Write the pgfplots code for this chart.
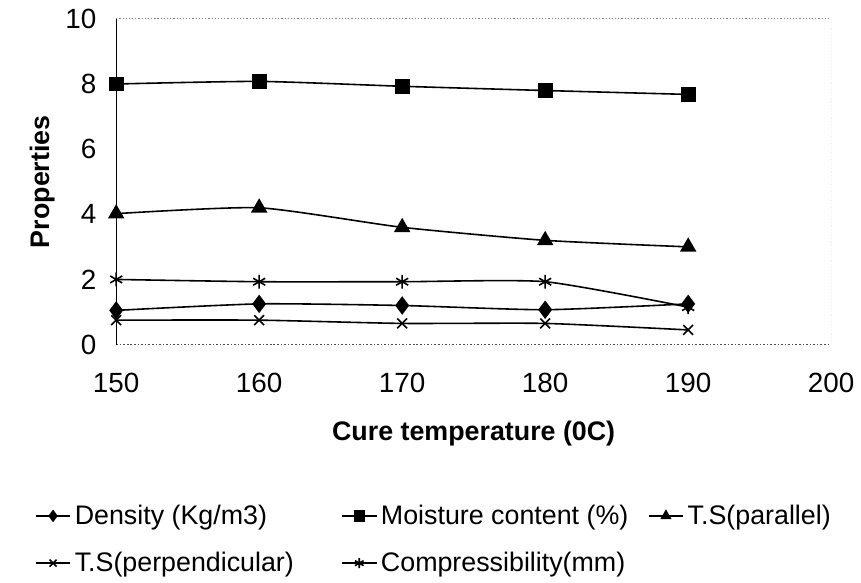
\documentclass[border=0pt]{standalone}
\usepackage{fontspec}
\setmainfont{Liberation Sans}
\usepackage{pgfplots}
\pgfplotsset{compat=1.18}
\begin{document}
\begin{tikzpicture}
\begin{axis}[
  scale only axis,
  width=360pt, height=164pt,
  xmin=150, xmax=200, ymin=0, ymax=10,
  xtick={150,160,...,200}, ytick={0,2,...,10},
  major tick length=0pt,
  axis line style={draw=none},
  /pgf/number format/assume math mode=true,
  ticklabel style={font=\fontsize{14}{16}\selectfont},
  xticklabel style={yshift=-11pt},
  yticklabel style={xshift=-6.5pt},
  xlabel={\textbf{Cure temperature (0C)}},
  ylabel={\textbf{Properties}},
  label style={font=\fontsize{13.5}{16}\selectfont},
  xlabel style={yshift=-7pt},
  ylabel style={yshift=-1.5pt},
  legend columns=3,
  legend cell align=left,
  legend style={draw=none, font=\fontsize{13.5}{15}\selectfont,
    at={(axis description cs:-0.122,-0.466)}, anchor=north west,
    /tikz/column 2/.style={column sep=22pt},
    /tikz/column 4/.style={column sep=8pt},
    row sep=8.5pt},
  legend image post style={mark size=2.5pt},
  every axis plot/.append style={black, line width=0.8pt, smooth, tension=0.35},
]
\draw[gray, densely dotted, line width=0.6pt] (rel axis cs:0,1) -- (rel axis cs:1,1) -- (rel axis cs:1,0);
\draw[black!70, densely dotted, line width=0.8pt] (rel axis cs:0,0) -- (rel axis cs:1,0);
\draw[black, line width=0.8pt] (rel axis cs:0,0) -- (rel axis cs:0,1);
\addplot[mark=diamond*, mark size=4pt] coordinates {(150,1.05) (160,1.25) (170,1.2) (180,1.07) (190,1.25)};
\addlegendentry{Density (Kg/m3)}
\addplot[mark=square*, mark size=3.3pt] coordinates {(150,8.0) (160,8.08) (170,7.93) (180,7.8) (190,7.68)};
\addlegendentry{Moisture content (\%)}
\addplot[mark=triangle*, mark size=4pt] coordinates {(150,4.02) (160,4.2) (170,3.6) (180,3.2) (190,3.0)};
\addlegendentry{T.S(parallel)}
\addplot[mark=x, mark size=3.5pt, mark options={line width=0.8pt}] coordinates {(150,0.75) (160,0.75) (170,0.65) (180,0.65) (190,0.45)};
\addlegendentry{T.S(perpendicular)}
\addplot[mark=asterisk, mark size=3.5pt, mark options={line width=0.8pt}] coordinates {(150,2.0) (160,1.93) (170,1.93) (180,1.93) (190,1.15)};
\addlegendentry{Compressibility(mm)}
\end{axis}
\useasboundingbox (-58.5pt,-114.5pt) rectangle (372pt,173.5pt);
\end{tikzpicture}
\end{document}
